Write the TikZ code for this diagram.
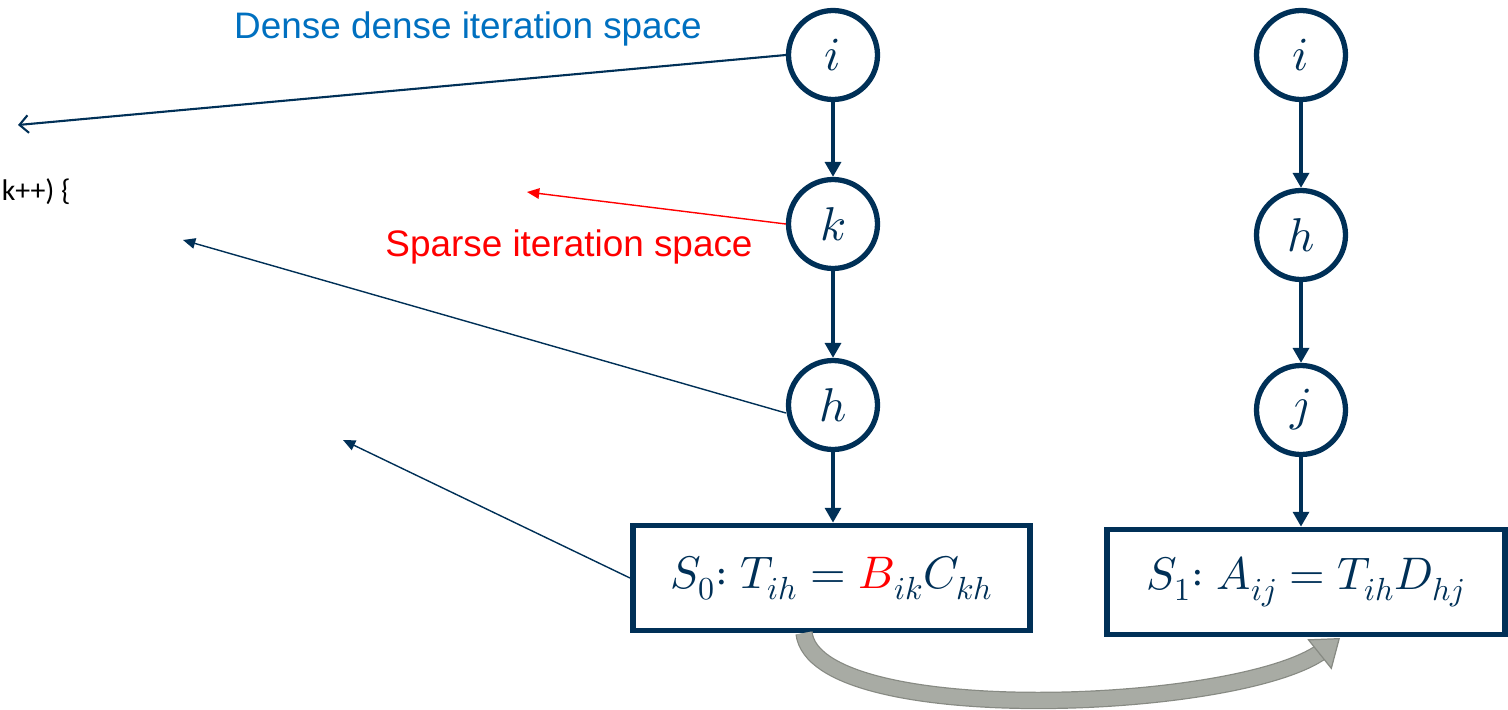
\documentclass[tikz,border=0pt]{standalone}
\usepackage{fontspec}
\usepackage{unicode-math}
\setsansfont{Liberation Sans}
\newfontfamily\calib{Carlito}
\usetikzlibrary{arrows.meta}
\definecolor{navy}{RGB}{0,48,87}
\definecolor{annblue}{RGB}{0,112,192}
\definecolor{annred}{RGB}{255,0,0}
\definecolor{greyarr}{RGB}{168,171,164}
\definecolor{greyedge}{RGB}{135,138,131}
\begin{document}
\begin{tikzpicture}[x=0.02cm,y=-0.02cm,
  loopnode/.style={circle,draw=navy,line width=3pt,minimum size=1.78cm,inner sep=0pt,
    text=navy,font=\fontsize{27}{30}\selectfont},
  stmt/.style={rectangle,draw=navy,line width=3.2pt,minimum width=7.95cm,minimum height=2.1cm,
    inner sep=0pt,text=navy,font=\fontsize{26}{30}\selectfont},
  flow/.style={draw=navy,line width=2.6pt,-{Triangle[length=8.5pt,width=9pt]}},
  ann/.style={draw=navy,line width=0.8pt,-{Triangle[length=7pt,width=6pt]}},
  lbl/.style={font=\sffamily\fontsize{21}{24}\selectfont}]
\useasboundingbox (0,0) rectangle (1508,710);

% left column
\node[loopnode] (i1) at (833,55) {$i$};
\node[loopnode] (k1) at (833,224) {$k$};
\node[loopnode] (h1) at (833,405) {$h$};
\node[stmt] (s0) at (831.5,578) {$S_0{:}\;T_{ih} = {\color{annred}B}_{ik}C_{kh}$};

% right column
\node[loopnode] (i2) at (1301,55) {$i$};
\node[loopnode] (h2) at (1301,235) {$h$};
\node[loopnode] (j2) at (1301,410) {$j$};
\node[stmt] (s1) at (1306,582) {$S_1{:}\;A_{ij} = T_{ih}D_{hj}$};

\draw[flow] (i1) -- (k1);
\draw[flow] (k1) -- (h1);
\draw[flow] (h1) -- (s0.north -| h1);
\draw[flow] (i2) -- (h2);
\draw[flow] (h2) -- (j2);
\draw[flow] (j2) -- (s1.north -| j2);

% annotation targets
\coordinate (tdense) at (18,125);
\coordinate (tsparse) at (527,192);
\coordinate (th) at (183,240);
\coordinate (ts0) at (343,440);

\draw[draw=navy,line width=1.2pt,-{Straight Barb[length=5pt,width=10pt]}] (i1.west) -- (tdense);
\draw[ann,draw=annred,fill=annred] (k1.west) -- (tsparse);
\draw[ann,fill=navy] ([yshift=-0.16cm]h1.west) -- (th);
\draw[ann,fill=navy] (s0.west) -- (ts0);

% labels
\node[lbl,text=annblue] (ldense) at (468,29) {Dense dense iteration space};
\node[lbl,text=annred] (lsparse) at (569,247) {Sparse iteration space};
\node[anchor=east,font=\calib\fontsize{17}{20}\selectfont,inner sep=0pt] (code) at (71,192) {k++) \{};

% grey dependence arrow
\coordinate (gstart) at (804,633);
\coordinate (gend) at (1340,638);
\coordinate (gpre) at (1330,646);
\draw[greyedge,line width=0.7pt,double=greyarr,double distance=8.5pt,shorten >=12pt]
  (gstart) .. controls (815,728) and (1240,712) .. (gend);
\draw[draw=greyedge,fill=greyarr,line width=0.7pt,-{Triangle[length=15pt,width=22pt,fill=greyarr,color=greyedge]}]
  (gpre) -- (gend);
\end{tikzpicture}
\end{document}
